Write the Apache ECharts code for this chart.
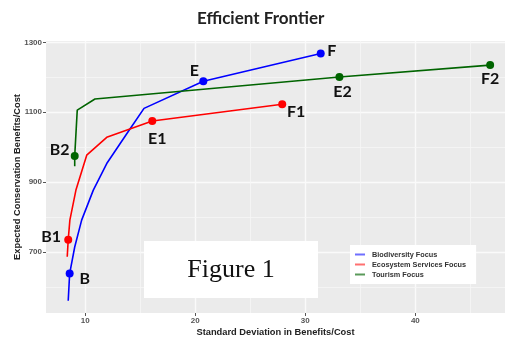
<!DOCTYPE html>
<html>
<head>
<meta charset="utf-8">
<script src="https://cdn.jsdelivr.net/npm/echarts@6/dist/echarts.min.js"></script>
<style>
	html, body { margin: 0; padding: 0; background: #fff; }
	#chart { width: 507px; height: 338px; }
</style>
</head>
<body>
<div id="chart"></div>
<script>
// values
var bioSd = [8.45, 8.58, 9.04, 9.67, 10.73, 11.95, 14.0, 15.34, 20.73, 31.4];
var bioBenefit = [560, 638, 714, 791, 877, 953, 1049, 1111, 1189, 1268];
var bioLabels = ['', 'B', '', '', '', '', '', '', 'E', 'F'];

var ecoSd = [8.36, 8.45, 8.6, 9.15, 10.13, 11.95, 16.09, 27.9];
var ecoBenefit = [686, 735, 791, 877, 977, 1028, 1075, 1123];
var ecoLabels = ['', 'B1', '', '', '', '', 'E1', 'F1'];

var tourSd = [9.04, 9.04, 9.27, 10.88, 33.1, 46.8];
var tourBenefit = [945, 975, 1106, 1138, 1201, 1235];
var tourLabels = ['', 'B2', '', '', 'E2', 'F2'];

var xMajor = [10, 20, 30, 40];
var xMinor = [15, 25, 35, 45];
var yMajor = [700, 900, 1100, 1300];
var yMinor = [600, 800, 1000, 1200];

var seriesNames = ['Biodiversity Focus', 'Ecosystem Services Focus', 'Tourism Focus'];

// where each point label sits relative to its dot
var labelOffsets = {
	'B': [15, 5], 'E': [-9, -10], 'F': [11, -3],
	'B1': [-17, -3], 'E1': [5, 18], 'F1': [14, 8],
	'B2': [-15, -6], 'E2': [3, 15], 'F2': [0, 14]
};

function buildData(xs, ys, labels) {
	return xs.map(function (x, i) {
		var item = {value: [x, ys[i]]};
		if (labels[i]) {
			item.symbolSize = 8;
			item.label = {
				show: true,
				position: 'inside',
				formatter: labels[i],
				offset: labelOffsets[labels[i]]
			};
		} else {
			item.symbolSize = 0;
		}
		return item;
	});
}

function makeSeries(name, color, xs, ys, labels) {
	return {
		name: name,
		type: 'line',
		data: buildData(xs, ys, labels),
		symbol: 'circle',
		showSymbol: true,
		showAllSymbol: true,
		animation: false,
		z: 3,
		lineStyle: {color: color, width: 1.6},
		itemStyle: {color: color},
		label: {
			color: '#111',
			fontFamily: 'Lato',
			fontWeight: 'bold',
			fontSize: 16
		},
		emphasis: {disabled: true}
	};
}

// thin minor grid lines, drawn as a markLine on an empty series
function minorGrid() {
	var lines = [];
	xMinor.forEach(function (v) { lines.push({xAxis: v}); });
	yMinor.forEach(function (v) { lines.push({yAxis: v}); });
	return {
		type: 'line',
		data: [],
		silent: true,
		z: 1,
		markLine: {
			silent: true,
			z: 1,
			symbol: 'none',
			animation: false,
			label: {show: false},
			lineStyle: {type: 'solid', color: '#f6f6f6', width: 0.8},
			emphasis: {disabled: true},
			data: lines
		}
	};
}

function plain(v) {
	return String(v);
}

var axisFont = {fontFamily: 'Liberation Sans', fontSize: 8, fontWeight: 'bold', color: '#555'};
var nameFont = {fontFamily: 'Liberation Sans', fontSize: 9.3, fontWeight: 'bold', color: '#222'};

var chart = echarts.init(document.getElementById('chart'));

var options = {
	animation: false,
	title: {
		text: 'Efficient Frontier',
		left: 197,
		top: 10,
		padding: 0,
		textStyle: {fontFamily: 'Lato', fontWeight: 'bold', fontSize: 17, color: '#222'}
	},
	grid: {
		left: 46, right: 2, top: 41, bottom: 25,
		outerBoundsMode: 'none',
		containLabel: false,
		show: true,
		backgroundColor: '#EBEBEB',
		borderWidth: 0
	},
	legend: {
		orient: 'vertical',
		left: 350,
		top: 245,
		padding: [6, 10, 6, 5],
		backgroundColor: '#fff',
		itemWidth: 10,
		itemHeight: 2,
		itemGap: 3,
		icon: 'rect',
		data: [
			{name: seriesNames[0], itemStyle: {color: '#6f6fff'}},
			{name: seriesNames[1], itemStyle: {color: '#ff7070'}},
			{name: seriesNames[2], itemStyle: {color: '#5a9a5a'}}
		],
		textStyle: {fontFamily: 'Liberation Sans', fontSize: 7.3, fontWeight: 'bold', color: '#333', padding: [0, 0, 0, 2]}
	},
	xAxis: {
		type: 'value',
		min: 6.43,
		max: 48.15,
		name: 'Standard Deviation in Benefits/Cost',
		nameLocation: 'middle',
		nameGap: 15,
		nameMoveOverlap: false,
		nameTextStyle: nameFont,
		axisLine: {show: false},
		axisTick: {show: true, length: 3, customValues: xMajor, lineStyle: {color: '#555'}},
		axisLabel: Object.assign({customValues: xMajor, margin: 4, formatter: plain}, axisFont),
		splitLine: {show: true, lineStyle: {color: '#fafafa', width: 1.3}}
	},
	yAxis: {
		type: 'value',
		min: 525,
		max: 1304,
		name: 'Expected Conservation Benefits/Cost',
		nameLocation: 'middle',
		nameGap: 24,
		nameMoveOverlap: false,
		nameTextStyle: nameFont,
		axisLine: {show: false},
		axisTick: {show: true, length: 3, customValues: yMajor, lineStyle: {color: '#555'}},
		axisLabel: Object.assign({customValues: yMajor, margin: 4, formatter: plain}, axisFont),
		splitLine: {show: true, lineStyle: {color: '#fafafa', width: 1.3}}
	},
	graphic: [
		{
			type: 'rect',
			shape: {x: 144, y: 241, width: 174, height: 57},
			style: {fill: '#fff'},
			z: 10
		},
		{
			type: 'text',
			x: 231,
			y: 270,
			style: {
				text: 'Figure 1',
				font: '26px "Liberation Serif"',
				fill: '#111',
				textAlign: 'center',
				textVerticalAlign: 'middle'
			},
			z: 11
		}
	],
	series: [
		makeSeries(seriesNames[0], '#0000FF', bioSd, bioBenefit, bioLabels),
		makeSeries(seriesNames[1], '#FF0000', ecoSd, ecoBenefit, ecoLabels),
		makeSeries(seriesNames[2], '#006400', tourSd, tourBenefit, tourLabels),
		minorGrid()
	]
};

chart.setOption(options);
</script>
</body>
</html>
